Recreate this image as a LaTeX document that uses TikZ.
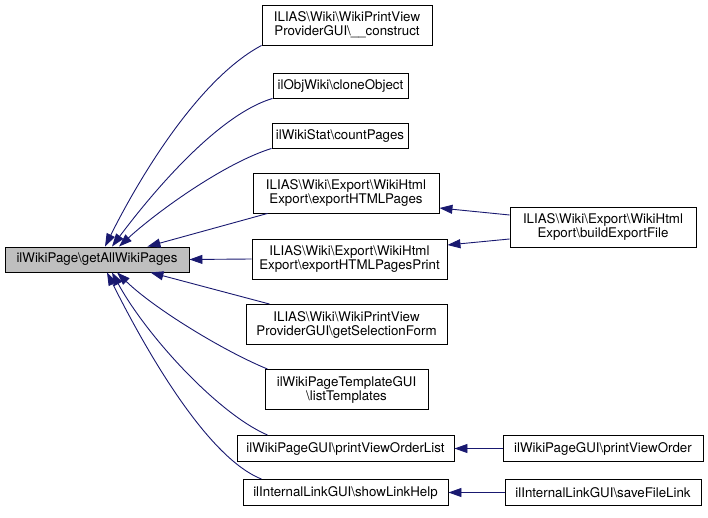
\documentclass[tikz,border=0pt]{standalone}
\usepackage{fontspec}
\setmainfont{TeX Gyre Heros}
\usetikzlibrary{arrows.meta}
\definecolor{edgeblue}{RGB}{25,25,112}
\definecolor{mainfill}{RGB}{191,191,191}
\newcommand{\bsl}{\textbackslash{}}
\tikzset{
  fn/.style={draw=black, line width=0.9pt, align=center, inner sep=0pt,
    minimum height=25pt, font=\fontsize{13.3}{14}\selectfont},
  fntwo/.style={fn, minimum height=40pt},
  call/.style={edgeblue, line width=0.9pt, {Triangle[length=13pt,width=9pt]}-},
}

\begin{document}
\begin{tikzpicture}[x=1pt,y=-1pt]
\useasboundingbox (0,0) rectangle (708,518);

\node[fn, fill=mainfill, minimum width=184pt] (main) at (97,259.5) {ilWikiPage\bsl getAllWikiPages};

\node[fntwo, minimum width=170pt] (construct) at (347,25) {ILIAS\bsl Wiki\bsl WikiPrintView\\ProviderGUI\bsl\_\_construct};
\node[fn, minimum width=135pt] (clone) at (340.5,85.5) {ilObjWiki\bsl cloneObject};
\node[fn, minimum width=136pt] (count) at (340,135.5) {ilWikiStat\bsl countPages};
\node[fntwo, minimum width=186pt] (exppages) at (346,193) {ILIAS\bsl Wiki\bsl Export\bsl WikiHtml\\Export\bsl exportHTMLPages};
\node[fntwo, minimum width=195pt] (expprint) at (349.5,259) {ILIAS\bsl Wiki\bsl Export\bsl WikiHtml\\Export\bsl exportHTMLPagesPrint};
\node[fntwo, minimum width=186pt] (build) at (603,227) {ILIAS\bsl Wiki\bsl Export\bsl WikiHtml\\Export\bsl buildExportFile};
\node[fntwo, minimum width=201pt] (selform) at (346.5,324.5) {ILIAS\bsl Wiki\bsl WikiPrintView\\ProviderGUI\bsl getSelectionForm};
\node[fntwo, minimum width=163pt] (templ) at (346.5,389.5) {ilWikiPageTemplateGUI\\\bsl listTemplates};
\node[fn, minimum width=217pt, minimum height=26pt] (pvolist) at (345.5,448.5) {ilWikiPageGUI\bsl printViewOrderList};
\node[fn, minimum width=200pt, minimum height=26pt] (pvo) at (603,448.5) {ilWikiPageGUI\bsl printViewOrder};
\node[fn, minimum width=205pt, minimum height=26pt] (linkhelp) at (345.5,492.5) {ilInternalLinkGUI\bsl showLinkHelp};
\node[fn, minimum width=196pt, minimum height=26pt] (savelink) at (603,492.5) {ilInternalLinkGUI\bsl saveFileLink};

\draw[call] ([xshift=8pt]main.north) .. controls +(36,-72) and +(-62,33) .. (construct.south west);
\draw[call] ([xshift=15pt]main.north) .. controls +(36,-48) and +(-57,17) .. (clone.south west);
\draw[call] ([xshift=22pt]main.north) .. controls +(37,-34) and +(-48,15) .. (count.south west);
\draw[call] ([xshift=-42pt]main.north east) -- ([xshift=15pt]exppages.south west);
\draw[call] (main.east) -- (expprint.west);
\draw[call] ([xshift=-39pt]main.south east) -- ([xshift=24pt]selform.north west);
\draw[call] ([xshift=20pt]main.south) .. controls +(37,36) and +(-44,-18) .. ([xshift=3pt]templ.north west);
\draw[call] ([xshift=15pt]main.south) .. controls +(35,64) and +(-49,-21) .. ([xshift=31pt]pvolist.north west);
\draw[call] ([xshift=10pt]main.south) .. controls +(36,72) and +(-56,-22) .. ([xshift=19pt]linkhelp.north west);

\draw[call] ([yshift=-15pt]exppages.east) -- ([yshift=12pt]build.west);
\draw[call] ([yshift=14pt]expprint.east) -- ([yshift=-12pt]build.west);
\draw[call] (pvolist.east) -- (pvo.west);
\draw[call] (linkhelp.east) -- (savelink.west);

\end{tikzpicture}
\end{document}
